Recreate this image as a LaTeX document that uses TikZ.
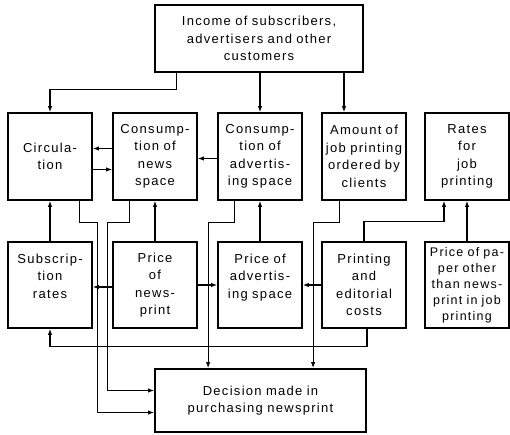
\documentclass[tikz,border=0pt]{standalone}
\usepackage{fontspec}
\newfontfamily\boxfont{Liberation Sans}[LetterSpace=10]
\usetikzlibrary{arrows.meta}

\begin{document}
    \begin{tikzpicture}[x=1pt,y=-1pt]
        \tikzstyle{every node}=[draw,line width=1.8pt,inner sep=2pt,align=center,font=\boxfont\fontsize{13}{17.5}\selectfont]
        \tikzstyle{box}=[text width=80pt,minimum height=87pt]
        \tikzstyle{lowbox}=[box,minimum height=86pt]
        \tikzstyle{arr}=[line width=1.1pt,-{Latex[length=6pt,width=4.5pt]}]
        \useasboundingbox (0,0) rectangle (510,435);
        \node[text width=204pt,minimum height=67pt] (inc) at (259,38.5) {Income of subscribers,\\advertisers and other\\customers};
        % upper row
        \node[box] (circ) at (50,156.5) {Circula-\\tion};
        \node[box] (cnews) at (155,156.5) {Consump-\\tion of\\news\\space};
        \node[box] (cadv) at (260,156.5) {Consump-\\tion of\\advertis-\\ing space};
        \node[box] (amt) at (364,156.5) {Amount of\\job printing\\ordered by\\clients};
        \node[box] (rates) at (467,156.5) {Rates\\for\\job\\printing};
        % lower row
        \node[lowbox] (subs) at (50,285) {Subscrip-\\tion\\rates\\\mbox{}};
        \node[lowbox] (pnews) at (155,285) {Price\\of\\news-\\print};
        \node[lowbox] (padv) at (260,285) {Price of\\advertis-\\ing space\\\mbox{}};
        \node[lowbox] (pcost) at (364,285) {Printing\\and\\editorial\\costs};
        \node[lowbox,font=\boxfont\fontsize{12.5}{16}\selectfont] (ppaper) at (467,285) {Price of pa-\\per other\\than news-\\print in job\\printing};
        \node[text width=207pt,minimum height=63pt] (dec) at (260.5,400.5) {Decision made in\\purchasing newsprint};
        % income
        \draw[arr] ([xshift=22pt]inc.south west) |- ([yshift=23pt]circ.north) -- (circ.north);
        \draw[arr] (inc.south -| cadv.north) -- (cadv.north);
        \draw[arr] ([xshift=85pt]inc.south) -- ([xshift=-20pt]amt.north);
        % between the boxes of the upper row
        \draw[arr] ([yshift=8pt]cnews.west) -- ([yshift=8pt]circ.east);
        \draw[arr] ([yshift=-13pt]circ.east) -- ([yshift=-13pt]cnews.west);
        \draw[arr] ([yshift=-2pt]cadv.west) -- ([yshift=-2pt]cnews.east);
        % lower row up to upper row
        \draw[arr] (subs.north) -- (circ.south);
        \draw[arr] (pnews.north) -- (cnews.south);
        \draw[arr] (padv.north) -- (cadv.south);
        \draw[arr] (ppaper.north) -- (rates.south);
        \draw[arr] (pcost.north) -- ++(0,-20) -| ([xshift=-23pt]rates.south);
        % lower row
        \draw[arr] ([yshift=-2pt]pnews.west) -- ([yshift=-2pt]subs.east);
        \draw[arr] (pnews.east) -- (padv.west);
        \draw[arr] (pcost.west) -- (padv.east);
        \draw[arr] ([xshift=3pt]pcost.south) -- ++(0,18) -| (subs.south);
        % into the decision
        \draw[arr] ([xshift=-13pt]circ.south east) -- ++(0,22) -- ++(18,0) |- ([yshift=-12pt]dec.west);
        \draw[arr] ([xshift=17pt]cnews.south west) -- ++(0,22) -- ++(-22,0) |- ([yshift=10pt]dec.west);
        \draw[arr] ([xshift=17pt]cadv.south west) -- ++(0,22) -| ([xshift=54pt]dec.north west);
        \draw[arr] ([xshift=18pt]amt.south west) -- ++(0,22) -| ([xshift=159pt]dec.north west);
    \end{tikzpicture}
\end{document}
